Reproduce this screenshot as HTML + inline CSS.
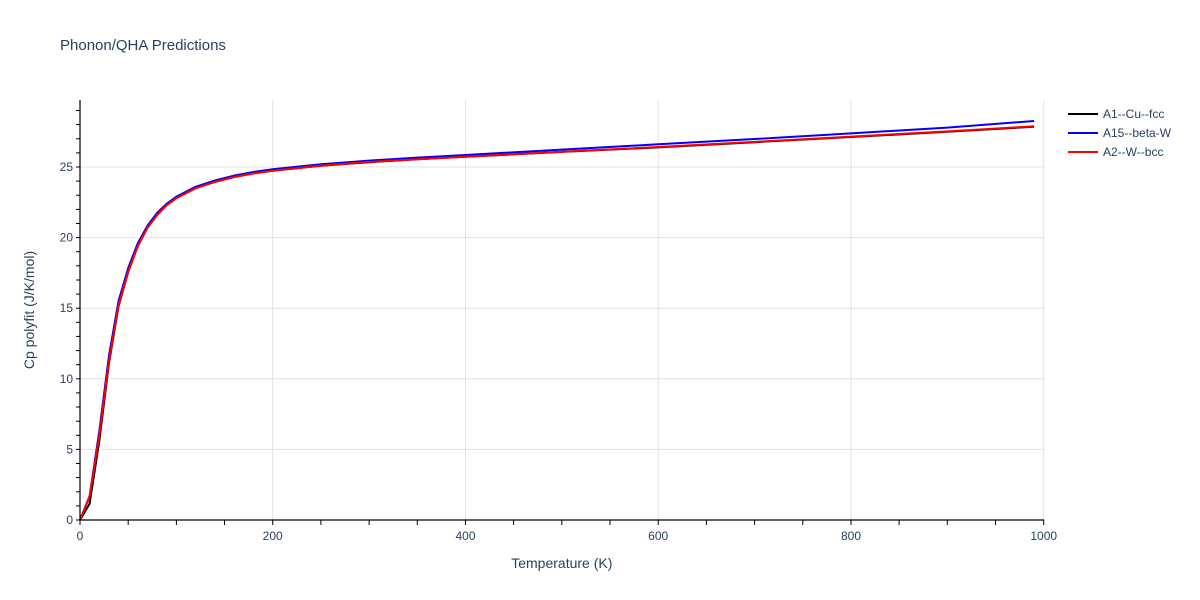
<!DOCTYPE html>
<html>
<head>
<meta charset="utf-8">
<style>
html,body{margin:0;padding:0;background:#fff;}
svg{display:block;font-family:"Liberation Sans",Arial,sans-serif;}
</style>
</head>
<body>
<svg width="1200" height="600" viewBox="0 0 1200 600" xmlns="http://www.w3.org/2000/svg">
<rect width="1200" height="600" fill="#fff"/>
<text x="60" y="50" font-size="15" fill="#2a3f5f">Phonon/QHA Predictions</text>

<!-- gridlines -->
<g stroke="#e1e1e1" stroke-width="1">
<line x1="272.7" y1="100" x2="272.7" y2="520"/>
<line x1="465.5" y1="100" x2="465.5" y2="520"/>
<line x1="658.2" y1="100" x2="658.2" y2="520"/>
<line x1="851" y1="100" x2="851" y2="520"/>
<line x1="1043.7" y1="100" x2="1043.7" y2="520"/>
<line x1="80" y1="449.4" x2="1044" y2="449.4"/>
<line x1="80" y1="378.8" x2="1044" y2="378.8"/>
<line x1="80" y1="308.2" x2="1044" y2="308.2"/>
<line x1="80" y1="237.6" x2="1044" y2="237.6"/>
<line x1="80" y1="167" x2="1044" y2="167"/>
</g>

<!-- series -->
<g fill="none" stroke-width="2" stroke-linejoin="round">
<polyline id="black" stroke="#000" points="80,520 89.6,503.8 99.3,441 108.9,364 118.5,306.5 128.2,272 137.8,246 147.5,227.7 157.1,215 166.7,205.2 176.4,198.1 195.6,188.2 214.9,181.9 234.2,177 253.5,173.4 272.7,170.7 320.9,165.7 369.1,162.2 417.3,159.3 465.5,156.8 561.8,151.9 658.2,147.4 754.6,142.2 851,137 947.3,131.8 1034.1,126.7"/>
<polyline id="blue" stroke="#0000ff" points="80,520 89.6,496 99.3,431 108.9,356.2 118.5,301.2 128.2,268 137.8,243.2 147.5,225.6 157.1,212.9 166.7,203.7 176.4,196.7 195.6,186.8 214.9,180.5 234.2,175.6 253.5,172 272.7,169.3 320.9,164.3 369.1,160.6 417.3,157.6 465.5,155 561.8,149.6 658.2,144.3 754.6,139 851,133.4 947.3,127.6 1034.1,121"/>
<polyline id="red" stroke="#ff0000" points="80,520 89.6,496.7 99.3,435.3 108.9,361.8 118.5,305.4 128.2,271.5 137.8,246 147.5,227.7 157.1,215 166.7,205.2 176.4,198.1 195.6,188.2 214.9,181.9 234.2,177 253.5,173.4 272.7,170.7 320.9,165.6 369.1,162 417.3,159.2 465.5,156.7 561.8,151.8 658.2,147 754.6,141.9 851,136.6 947.3,131.4 1034.1,126.3"/>
</g>

<!-- axes -->
<g stroke="#000" stroke-width="1.2" fill="none">
<line x1="80" y1="100" x2="80" y2="520.6"/>
<line x1="79.4" y1="520" x2="1044" y2="520"/>
</g>
<!-- y ticks every 1 -->
<g stroke="#000" stroke-width="1">
<line x1="76" x2="80" y1="520" y2="520"/><line x1="76" x2="80" y1="505.9" y2="505.9"/><line x1="76" x2="80" y1="491.8" y2="491.8"/><line x1="76" x2="80" y1="477.6" y2="477.6"/><line x1="76" x2="80" y1="463.5" y2="463.5"/><line x1="76" x2="80" y1="449.4" y2="449.4"/><line x1="76" x2="80" y1="435.3" y2="435.3"/><line x1="76" x2="80" y1="421.2" y2="421.2"/><line x1="76" x2="80" y1="407" y2="407"/><line x1="76" x2="80" y1="392.9" y2="392.9"/><line x1="76" x2="80" y1="378.8" y2="378.8"/><line x1="76" x2="80" y1="364.7" y2="364.7"/><line x1="76" x2="80" y1="350.6" y2="350.6"/><line x1="76" x2="80" y1="336.4" y2="336.4"/><line x1="76" x2="80" y1="322.3" y2="322.3"/><line x1="76" x2="80" y1="308.2" y2="308.2"/><line x1="76" x2="80" y1="294.1" y2="294.1"/><line x1="76" x2="80" y1="280" y2="280"/><line x1="76" x2="80" y1="265.8" y2="265.8"/><line x1="76" x2="80" y1="251.7" y2="251.7"/><line x1="76" x2="80" y1="237.6" y2="237.6"/><line x1="76" x2="80" y1="223.5" y2="223.5"/><line x1="76" x2="80" y1="209.4" y2="209.4"/><line x1="76" x2="80" y1="195.2" y2="195.2"/><line x1="76" x2="80" y1="181.1" y2="181.1"/><line x1="76" x2="80" y1="167" y2="167"/><line x1="76" x2="80" y1="152.9" y2="152.9"/><line x1="76" x2="80" y1="138.8" y2="138.8"/><line x1="76" x2="80" y1="124.6" y2="124.6"/><line x1="76" x2="80" y1="110.5" y2="110.5"/>
</g>
<!-- x ticks every 50 -->
<g stroke="#000" stroke-width="1">
<line x1="80" x2="80" y1="520" y2="525"/><line x1="128.2" x2="128.2" y1="520" y2="525"/><line x1="176.4" x2="176.4" y1="520" y2="525"/><line x1="224.5" x2="224.5" y1="520" y2="525"/><line x1="272.7" x2="272.7" y1="520" y2="525"/><line x1="320.9" x2="320.9" y1="520" y2="525"/><line x1="369.1" x2="369.1" y1="520" y2="525"/><line x1="417.3" x2="417.3" y1="520" y2="525"/><line x1="465.5" x2="465.5" y1="520" y2="525"/><line x1="513.6" x2="513.6" y1="520" y2="525"/><line x1="561.8" x2="561.8" y1="520" y2="525"/><line x1="610" x2="610" y1="520" y2="525"/><line x1="658.2" x2="658.2" y1="520" y2="525"/><line x1="706.4" x2="706.4" y1="520" y2="525"/><line x1="754.6" x2="754.6" y1="520" y2="525"/><line x1="802.8" x2="802.8" y1="520" y2="525"/><line x1="851" x2="851" y1="520" y2="525"/><line x1="899.1" x2="899.1" y1="520" y2="525"/><line x1="947.3" x2="947.3" y1="520" y2="525"/><line x1="995.5" x2="995.5" y1="520" y2="525"/><line x1="1043.7" x2="1043.7" y1="520" y2="525"/>
</g>

<!-- tick labels -->
<g font-size="12" fill="#2a3f5f" text-anchor="end">
<text x="73" y="524">0</text>
<text x="73" y="453.4">5</text>
<text x="73" y="382.8">10</text>
<text x="73" y="312.2">15</text>
<text x="73" y="241.6">20</text>
<text x="73" y="171">25</text>
</g>
<g font-size="12" fill="#2a3f5f" text-anchor="middle">
<text x="80" y="540">0</text>
<text x="272.7" y="540">200</text>
<text x="465.5" y="540">400</text>
<text x="658.2" y="540">600</text>
<text x="851" y="540">800</text>
<text x="1043.7" y="540">1000</text>
</g>

<text x="561.8" y="568" font-size="14" fill="#2a3f5f" text-anchor="middle">Temperature (K)</text>
<text transform="translate(34,310) rotate(-90)" font-size="14" fill="#2a3f5f" text-anchor="middle">Cp polyfit (J/K/mol)</text>

<!-- legend -->
<g stroke-width="2">
<line x1="1068" y1="114" x2="1098" y2="114" stroke="#000"/>
<line x1="1068" y1="133" x2="1098" y2="133" stroke="#0000ff"/>
<line x1="1068" y1="152" x2="1098" y2="152" stroke="#ff0000"/>
</g>
<g font-size="12" fill="#2a3f5f">
<text x="1103" y="118">A1--Cu--fcc</text>
<text x="1103" y="137">A15--beta-W</text>
<text x="1103" y="156">A2--W--bcc</text>
</g>
</svg>
</body>
</html>
